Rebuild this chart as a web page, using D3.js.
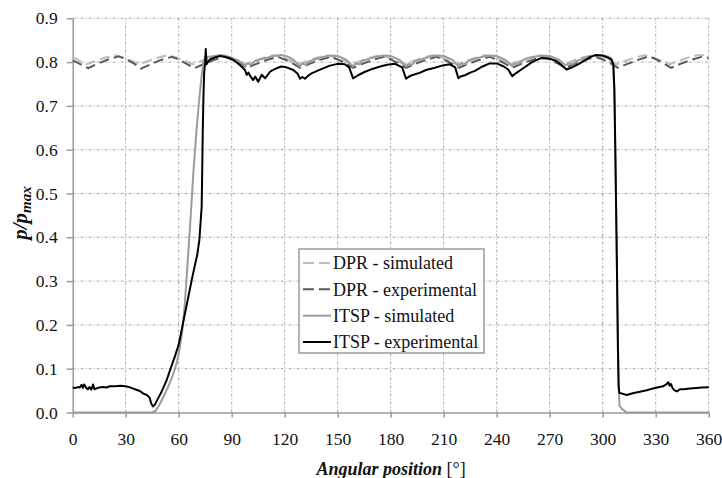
<!DOCTYPE html>
<html>
<head>
<meta charset="utf-8">
<script src="https://cdn.jsdelivr.net/npm/d3@7"></script>
<style>
  body { margin: 0; background: #fff; }
  svg { display: block; font-family: "Liberation Serif", "Times New Roman", serif; }
  .grid line { stroke: #a6a6a6; stroke-width: 1; stroke-dasharray: 3,2,1,2; }
  .axis path, .axis line { stroke: #9a9a9a; stroke-width: 1.5; }
  .axis text { font-family: "Liberation Serif", "Times New Roman", serif; font-size: 17.5px; fill: #111; }
  .series { fill: none; stroke-linejoin: round; }
</style>
</head>
<body>
<div id="chart"></div>
<script>
// tick values
const xTicks = [0, 30, 60, 90, 120, 150, 180, 210, 240, 270, 300, 330, 360];
const yTicks = [0, 0.1, 0.2, 0.3, 0.4, 0.5, 0.6, 0.7, 0.8, 0.9];

// series: [angle, p/pmax]
const dprSimulated = [
  [0,0.812],[4,0.803],[8,0.795],[13,0.803],[18,0.810],[24,0.816],[29,0.810],[34,0.802],[38,0.795],
  [43,0.803],[48,0.810],[54,0.816],[59,0.810],[64,0.802],[68,0.795],[73,0.803],[78,0.810],[84,0.816],
  [89,0.810],[94,0.802],[98,0.795],[103,0.803],[108,0.810],[114,0.816],[119,0.810],[124,0.802],[128,0.795],
  [133,0.803],[138,0.810],[144,0.816],[149,0.810],[154,0.802],[158,0.795],[163,0.803],[168,0.810],[174,0.816],
  [179,0.810],[184,0.802],[188,0.795],[193,0.803],[198,0.810],[204,0.816],[209,0.810],[214,0.802],[218,0.795],
  [223,0.803],[228,0.810],[234,0.816],[239,0.810],[244,0.802],[248,0.795],[253,0.803],[258,0.810],[264,0.816],
  [269,0.810],[274,0.802],[278,0.795],[283,0.803],[288,0.810],[294,0.816],[299,0.810],[304,0.802],[308,0.795],
  [313,0.803],[318,0.810],[324,0.816],[329,0.810],[334,0.802],[338,0.795],[343,0.803],[348,0.810],[354,0.816],
  [360,0.815]
];

const dprExperimental = [
  [0,0.804],[3,0.798],[8.7,0.786],[14,0.796],[20,0.806],[26,0.813],[30,0.807],[35,0.796],[38.7,0.785],
  [44,0.795],[50,0.805],[56,0.812],[60,0.806],[65,0.795],[68.7,0.786],[74,0.795],[80,0.805],[86,0.812],
  [90,0.806],[95,0.796],[98.7,0.787],[104,0.796],[110,0.805],[116,0.812],[120,0.806],[125,0.796],[128.7,0.787],
  [134,0.796],[140,0.805],[146,0.812],[150,0.806],[155,0.796],[158.7,0.787],[164,0.796],[170,0.805],[176,0.812],
  [180,0.806],[185,0.796],[188.7,0.787],[194,0.796],[200,0.805],[206,0.812],[210,0.806],[215,0.796],[218.7,0.787],
  [224,0.796],[230,0.805],[236,0.812],[240,0.806],[245,0.796],[248.7,0.787],[254,0.796],[260,0.805],[266,0.812],
  [270,0.806],[275,0.796],[278.7,0.787],[284,0.796],[290,0.805],[296,0.812],[300,0.806],[305,0.796],[308.7,0.787],
  [314,0.796],[320,0.805],[326,0.813],[330,0.807],[335,0.796],[338.7,0.787],[344,0.796],[350,0.805],[356,0.812],
  [360,0.810]
];

const itspSimulated = [
  [0,0],[45,0],[47,0.004],[49.4,0.02],[51,0.033],[53.2,0.051],[55,0.068],[57,0.089],[59,0.115],[60.5,0.145],
  [62,0.185],[63.5,0.25],[65,0.34],[66.5,0.43],[68.3,0.547],[70,0.64],[71.5,0.71],[73,0.77],[74,0.80],[75,0.812],
  [78,0.812],[82,0.815],[86,0.815],[90,0.81],[94,0.803],[97.6,0.792],[99,0.797],[101,0.794],[103,0.802],[106,0.806],
  [110,0.81],[114,0.814],[118,0.816],[122,0.812],[125,0.805],[128.7,0.79],[130,0.797],[132,0.794],[134,0.802],[138,0.807],
  [142,0.812],[146,0.815],[150,0.814],[155,0.805],[158.7,0.79],[160,0.797],[162,0.795],[164,0.803],[168,0.808],
  [172,0.812],[176,0.815],[180,0.814],[185,0.805],[188.7,0.79],[190,0.796],[192,0.794],[194,0.802],[198,0.807],
  [202,0.812],[206,0.815],[210,0.814],[215,0.805],[218.5,0.79],[220,0.797],[222,0.795],[224,0.803],[228,0.808],
  [232,0.812],[236,0.815],[240,0.814],[245,0.805],[248.7,0.791],[250,0.797],[252,0.795],[254,0.803],[258,0.809],
  [262,0.813],[266,0.815],[270,0.814],[275,0.806],[279,0.793],[281,0.797],[283,0.796],[286,0.804],[290,0.81],
  [295,0.815],[300,0.815],[303,0.813],[305,0.808],[306,0.795],[306.8,0.70],[307.5,0.50],[308.3,0.25],[309,0.07],
  [309.5,0.015],[311,0.008],[313.6,0],[360,0]
];

const itspExperimental = [
  [0,0.057],[1.5,0.056],[3,0.058],[4,0.057],[5,0.063],[5.7,0.056],[6.5,0.064],[7.5,0.057],[8.5,0.053],[9.5,0.058],
  [10.5,0.052],[11.5,0.064],[12.3,0.053],[13.5,0.055],[15,0.057],[17,0.058],[19,0.057],[21,0.06],[24,0.06],[27,0.061],
  [30,0.06],[32,0.058],[34,0.055],[36,0.052],[38,0.049],[40,0.043],[42,0.04],[43.5,0.034],[44.5,0.02],[45.5,0.014],
  [46.5,0.018],[48,0.03],[50,0.045],[53,0.072],[56,0.107],[58,0.13],[60,0.155],[62,0.195],[64,0.235],[66,0.275],
  [67.5,0.305],[69,0.333],[70.5,0.36],[71.7,0.394],[72.5,0.44],[73,0.47],[73.3,0.55],[73.6,0.64],[74,0.72],
  [74.4,0.775],[75,0.80],[75.3,0.83],[75.8,0.795],[76.5,0.80],[77.7,0.806],[80,0.81],[83.4,0.814],[86,0.812],
  [89,0.809],[92,0.802],[94.7,0.793],[96,0.788],[97.5,0.782],[98.5,0.771],[99.5,0.776],[100.5,0.768],[102.2,0.759],
  [103.3,0.767],[105,0.755],[107,0.771],[108.9,0.763],[111.7,0.778],[115.5,0.786],[118,0.79],[121,0.788],
  [124.9,0.782],[127.2,0.774],[128.7,0.762],[130,0.766],[131.5,0.762],[133,0.768],[135.5,0.775],[139,0.781],
  [145.6,0.792],[150,0.796],[154,0.795],[156.5,0.788],[158.7,0.763],[160,0.766],[161.5,0.77],[165.5,0.778],[170,0.785],
  [174,0.79],[178,0.794],[182.5,0.796],[186.5,0.788],[188.7,0.762],[190,0.766],[192,0.77],[196.7,0.776],[200,0.782],
  [205,0.787],[210,0.793],[213.5,0.795],[216.5,0.788],[218.3,0.763],[219.5,0.767],[222,0.77],[225,0.776],[227.7,0.78],
  [232,0.79],[236,0.797],[240,0.797],[244,0.79],[246.5,0.783],[248.8,0.768],[251,0.775],[255,0.786],[260,0.80],
  [265,0.809],[270,0.808],[274,0.802],[277,0.792],[279.5,0.783],[282,0.787],[286,0.795],[290,0.804],[293,0.812],
  [296,0.816],[300,0.815],[303,0.81],[305,0.805],[306,0.795],[306.6,0.74],[307.3,0.55],[308,0.35],[308.6,0.15],
  [309,0.06],[309.4,0.045],[311,0.043],[313.6,0.04],[317,0.044],[321,0.0475],[325,0.051],[328.6,0.055],[332,0.058],
  [334.3,0.06],[336,0.064],[337.1,0.069],[338,0.061],[338.7,0.065],[339.5,0.056],[340.5,0.051],[342,0.048],
  [343.7,0.053],[346,0.053],[349.4,0.055],[353,0.056],[356,0.057],[360,0.0575]
];

const seriesNames = ["DPR - simulated", "DPR - experimental", "ITSP - simulated", "ITSP - experimental"];
const seriesData = [dprSimulated, dprExperimental, itspSimulated, itspExperimental];
const seriesColor = ["#bdbdbd", "#5a5a5a", "#9c9c9c", "#000000"];
const seriesDash = ["10,5", "10,5", null, null];

const width = 722,
    height = 478,
    margin = {top: 18.3, right: 13.3, bottom: 65.5, left: 72.7};

const svg = d3.select("#chart")
    .append("svg")
    .attr("width", width)
    .attr("height", height);

const x = d3.scaleLinear()
    .domain([0, 360])
    .range([margin.left, width - margin.right]);

const y = d3.scaleLinear()
    .domain([0, 0.9])
    .range([height - margin.bottom, margin.top]);

// grid
const grid = svg.append("g").attr("class", "grid");
grid.selectAll("line.v")
    .data(xTicks.slice(1))
    .enter().append("line")
    .attr("class", "v")
    .attr("x1", d => x(d)).attr("x2", d => x(d))
    .attr("y1", y(0)).attr("y2", y(0.9));
grid.selectAll("line.h")
    .data(yTicks.slice(1))
    .enter().append("line")
    .attr("class", "h")
    .attr("x1", x(0)).attr("x2", x(360))
    .attr("y1", d => y(d)).attr("y2", d => y(d));

// axes
svg.append("g")
    .attr("class", "axis")
    .attr("transform", "translate(0," + y(0) + ")")
    .call(d3.axisBottom(x).tickValues(xTicks).tickSize(5).tickSizeOuter(0).tickPadding(15).tickFormat(d3.format("d")));

svg.append("g")
    .attr("class", "axis")
    .attr("transform", "translate(" + x(0) + ",0)")
    .call(d3.axisLeft(y).tickValues(yTicks).tickSize(6).tickSizeOuter(0).tickPadding(9).tickFormat(d3.format(".1f")));

// lines
const line = d3.line()
    .x(d => x(d[0]))
    .y(d => y(d[1]));

seriesData.forEach(function(data, i) {
  svg.append("path")
      .datum(data)
      .attr("class", "series")
      .attr("d", line)
      .attr("stroke", seriesColor[i])
      .attr("stroke-width", 2)
      .attr("stroke-dasharray", seriesDash[i]);
});

// axis titles
const xTitle = svg.append("text")
    .attr("x", 391)
    .attr("y", 475)
    .attr("text-anchor", "middle")
    .style("font-size", "18px")
    .style("fill", "#111");
xTitle.append("tspan").style("font-weight", "bold").style("font-style", "italic").text("Angular position");
xTitle.append("tspan").text(" [°]");

const yTitle = svg.append("text")
    .attr("transform", "translate(27,213) rotate(-90)")
    .attr("text-anchor", "middle")
    .style("font-size", "21px")
    .style("font-weight", "bold")
    .style("font-style", "italic")
    .style("fill", "#111");
yTitle.append("tspan").text("p/p");
yTitle.append("tspan").attr("dy", 4).style("font-size", "15px").text("max");

// legend
const legend = svg.append("g");
legend.append("rect")
    .attr("x", 299).attr("y", 249)
    .attr("width", 185).attr("height", 104)
    .attr("fill", "#fff")
    .attr("stroke", "#9a9a9a")
    .attr("stroke-width", 1.5);

const legendY = d3.scalePoint()
    .domain(seriesNames)
    .range([263, 342]);

seriesNames.forEach(function(name, i) {
  legend.append("line")
      .attr("x1", 303).attr("x2", 331)
      .attr("y1", legendY(name)).attr("y2", legendY(name))
      .attr("stroke", seriesColor[i])
      .attr("stroke-width", 2)
      .attr("stroke-dasharray", seriesDash[i] ? "11,5" : null);
  legend.append("text")
      .attr("x", 333)
      .attr("y", legendY(name))
      .attr("dy", "0.35em")
      .style("font-size", "18px")
      .style("fill", "#111")
      .text(name);
});
</script>
</body>
</html>
